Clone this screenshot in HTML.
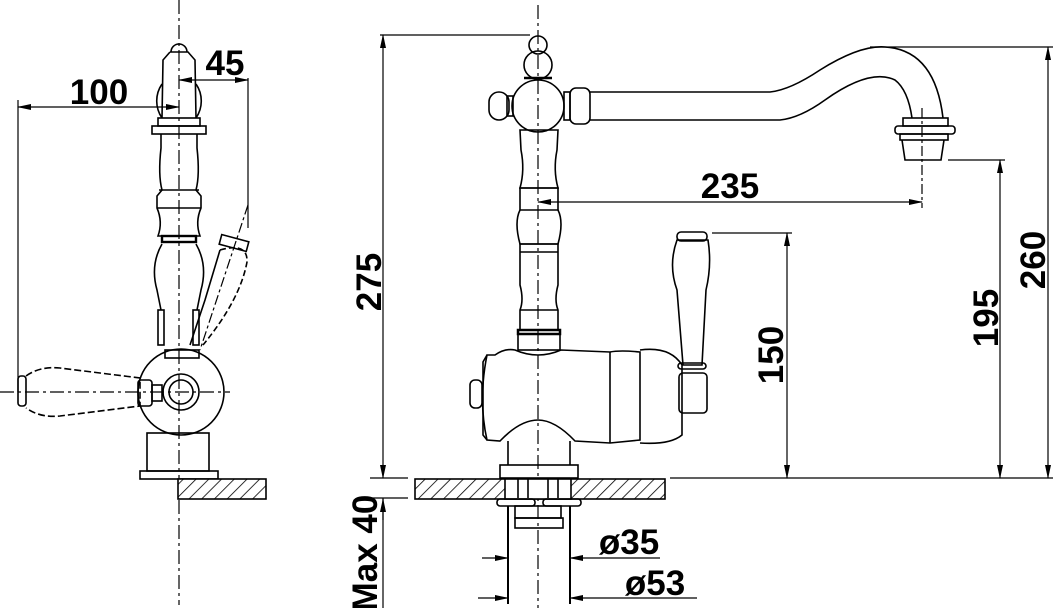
<!DOCTYPE html>
<html><head><meta charset="utf-8"><style>
html,body{margin:0;padding:0;background:#fff;width:1058px;height:608px;overflow:hidden}
svg{display:block}
text{font-family:"Liberation Sans",Arial,sans-serif;font-weight:bold;fill:#000}
</style></head><body>
<svg width="1058" height="608" viewBox="0 0 1058 608" xmlns="http://www.w3.org/2000/svg">
<defs>
<pattern id="h" width="9" height="9" patternUnits="userSpaceOnUse" patternTransform="rotate(45)">
<rect width="9" height="9" fill="#fff"/><line x1="0" y1="0" x2="0" y2="9" stroke="#000" stroke-width="1.6"/></pattern>
<marker id="a" markerWidth="14" markerHeight="8" refX="13" refY="4" orient="auto-start-reverse" markerUnits="userSpaceOnUse"><path d="M0,1 L14,4 L0,7 Z" fill="#000"/></marker>
</defs>
<g fill="none" stroke="#000" stroke-width="1.6">
<!-- LEFT VIEW -->
<line x1="179" y1="0" x2="179" y2="605" stroke-dasharray="14,4,3,4" stroke-width="1.2"/>
<line x1="0" y1="392" x2="230" y2="392" stroke-dasharray="14,4,3,4" stroke-width="1.2"/>
<path d="M171,52 A8,8 0 0 1 187,52"/>
<path d="M170,52 L188,52 L195,60 L196,118 M170,52 L163,60 L162,118"/>
<path d="M162,84 A30,30 0 0 0 162,118 M196,84 A30,30 0 0 1 196,118"/>
<rect x="158" y="118" width="42" height="8"/>
<rect x="152" y="126" width="54" height="8"/>
<path d="M161,134 L161,148 Q158,175 162,190 L157,196 L157,208 Q163,222 158,236 L200,236 Q195,222 201,208 L201,196 L196,190 Q200,175 197,148 L197,134"/>
<line x1="159" y1="190" x2="199" y2="190"/><line x1="157" y1="208" x2="201" y2="208"/>
<rect x="162" y="236" width="34" height="6" stroke-width="2.4"/>
<path d="M162,244 Q150,265 157,290 L161,310 M196,244 Q208,265 201,290 L197,310"/>
<rect x="158" y="310" width="6" height="35"/><rect x="193" y="310" width="6" height="35"/>
<circle cx="181" cy="392" r="43"/>
<circle cx="181" cy="392" r="18"/><circle cx="181" cy="392" r="12"/>
<rect x="165" y="350" width="34" height="8"/>
<path d="M26,376 Q40,366 60,368 L140,378 L140,406 L60,416 Q40,418 26,408" stroke-dasharray="7,3"/>
<rect x="18" y="376" width="8" height="30" rx="3"/>
<rect x="138" y="380" width="14" height="26" rx="3"/><rect x="152" y="385" width="10" height="16"/>
<path d="M220,250 Q248,242 247,262 Q240,300 203,345" stroke-dasharray="6,3"/>
<path d="M220,250 L205,300 L190,345"/>
<rect x="220" y="238" width="28" height="10" transform="rotate(15 234 243)"/>
<line x1="248" y1="205" x2="200" y2="350" stroke-dasharray="10,3,3,3" stroke-width="1.2"/>
<rect x="147" y="433" width="62" height="38"/>
<rect x="140" y="471" width="78" height="8"/>
<rect x="178" y="479" width="88" height="20" fill="url(#h)"/>
<line x1="18" y1="100" x2="18" y2="392" stroke-width="1.2"/>
<line x1="248" y1="78" x2="248" y2="228" stroke-width="1.2"/>
<line x1="18" y1="107" x2="179" y2="107" marker-start="url(#a)" marker-end="url(#a)" stroke-width="1.2"/>
<line x1="179" y1="80" x2="248" y2="80" marker-start="url(#a)" marker-end="url(#a)" stroke-width="1.2"/>

<!-- RIGHT VIEW -->
<line x1="538" y1="5" x2="538" y2="608" stroke-dasharray="14,4,3,4" stroke-width="1.2"/>
<circle cx="538" cy="45" r="9"/>
<circle cx="538" cy="65" r="14"/>
<circle cx="538" cy="106" r="26"/>
<line x1="524" y1="78" x2="552" y2="78" stroke-width="2.5"/>
<rect x="489" y="92" width="20" height="28" rx="10"/><rect x="507" y="96" width="6" height="20"/>
<rect x="564" y="92" width="6" height="28"/><rect x="570" y="88" width="20" height="36" rx="6"/>
<path d="M590,92 L770,92 Q790,90 820,70 Q860,45 885,47 Q935,50 943,118"/>
<path d="M590,120 L780,120 Q800,118 825,100 Q870,68 895,80 Q908,90 912,118"/>
<line x1="870" y1="47" x2="1053" y2="47" stroke-width="1.2"/>
<rect x="903" y="118" width="45" height="8"/><rect x="895" y="126" width="60" height="8" rx="3"/><rect x="900" y="134" width="48" height="6"/>
<path d="M902,140 L905,160 L941,160 L944,140"/>
<line x1="948" y1="160" x2="1005" y2="160" stroke-width="1.2"/>
<line x1="922" y1="108" x2="922" y2="208" stroke-dasharray="10,3,3,3" stroke-width="1.2"/>
<path d="M520,130 L558,130 L557,150 Q553,170 558,188 L520,188 Q525,170 521,150 Z"/>
<path d="M520,188 L558,188 L558,210 L520,210 Z"/>
<path d="M520,210 Q514,222 520,244 L558,244 Q564,222 558,210"/>
<path d="M520,244 L558,244 L558,285 Q554,300 558,310 L558,330 L520,330 L520,310 Q524,300 520,285 Z"/>
<line x1="520" y1="252" x2="558" y2="252"/><line x1="520" y1="310" x2="558" y2="310"/>
<rect x="518" y="330" width="42" height="4" stroke-width="2.5"/>
<rect x="518" y="334" width="42" height="16"/>
<path d="M495,355 Q505,348 515,350 Q538,360 561,350 L610,352 Q620,350 640,352 L640,440 L610,443 L575,441 Q555,420 538,420 Q520,420 500,441 L487,440 Q478,400 487,355 Z"/>
<path d="M487,355 L483,362 L483,435 L487,440"/>
<rect x="470" y="380" width="12" height="28" rx="5"/>
<line x1="610" y1="352" x2="610" y2="443"/>
<path d="M640,350 Q670,346 682,365 L682,435 Q670,445 640,443"/>
<rect x="679" y="373" width="28" height="40" rx="4"/>
<path d="M677,240 L708,240 Q712,265 706,290 L702,365 L683,365 L677,290 Q668,265 677,240 Z"/>
<rect x="677" y="232" width="30" height="9" rx="4"/>
<rect x="678" y="363" width="28" height="6" rx="3"/>
<path d="M508,441 L508,465 M570,441 L570,465"/>
<rect x="500" y="465" width="78" height="13"/>
<rect x="415" y="479" width="250" height="20" fill="url(#h)"/>
<rect x="505" y="479" width="66" height="20" fill="#fff"/>
<line x1="518" y1="479" x2="518" y2="498"/><line x1="528" y1="479" x2="528" y2="498"/><line x1="548" y1="479" x2="548" y2="498"/><line x1="558" y1="479" x2="558" y2="498"/>
<rect x="497" y="499" width="38" height="7" rx="3"/><rect x="543" y="499" width="38" height="7" rx="3"/>
<rect x="515" y="506" width="46" height="12"/><rect x="515" y="518" width="48" height="10"/>
<line x1="508" y1="506" x2="508" y2="604" stroke-width="2"/><line x1="570" y1="506" x2="570" y2="604" stroke-width="2"/>
<line x1="370" y1="478" x2="408" y2="478" stroke-width="1.2"/><line x1="370" y1="498" x2="408" y2="498" stroke-width="1.2"/>
<line x1="670" y1="478" x2="1053" y2="478" stroke-width="1.2"/>
<line x1="380" y1="35" x2="530" y2="35" stroke-width="1.2"/>
<line x1="712" y1="233" x2="792" y2="233" stroke-width="1.2"/>
<line x1="383" y1="35" x2="383" y2="478" marker-start="url(#a)" marker-end="url(#a)" stroke-width="1.2"/>
<line x1="383" y1="498" x2="383" y2="608" stroke-width="1.2"/>
<line x1="383" y1="520" x2="383" y2="499" marker-end="url(#a)" stroke-width="1.2"/>
<line x1="538" y1="202" x2="922" y2="202" marker-start="url(#a)" marker-end="url(#a)" stroke-width="1.2"/>
<line x1="787" y1="233" x2="787" y2="478" marker-start="url(#a)" marker-end="url(#a)" stroke-width="1.2"/>
<line x1="1000" y1="160" x2="1000" y2="478" marker-start="url(#a)" marker-end="url(#a)" stroke-width="1.2"/>
<line x1="1048" y1="47" x2="1048" y2="478" marker-start="url(#a)" marker-end="url(#a)" stroke-width="1.2"/>
<line x1="482" y1="558" x2="508" y2="558" marker-end="url(#a)" stroke-width="1.2"/>
<line x1="660" y1="558" x2="570" y2="558" marker-end="url(#a)" stroke-width="1.2"/>
<line x1="478" y1="598" x2="508" y2="598" marker-end="url(#a)" stroke-width="1.2"/>
<line x1="697" y1="598" x2="570" y2="598" marker-end="url(#a)" stroke-width="1.2"/>
</g>
<g font-size="35" text-anchor="middle">
<text x="99" y="104">100</text>
<text x="225" y="75">45</text>
<text x="730" y="198">235</text>
<text transform="translate(381,282) rotate(-90)">275</text>
<text transform="translate(783,355) rotate(-90)">150</text>
<text transform="translate(998,318) rotate(-90)">195</text>
<text transform="translate(1045,260) rotate(-90)">260</text>
<text transform="translate(377,553) rotate(-90)">Max 40</text>
<text x="629" y="554">ø35</text>
<text x="655" y="595">ø53</text>
</g>
</svg>
</body></html>
